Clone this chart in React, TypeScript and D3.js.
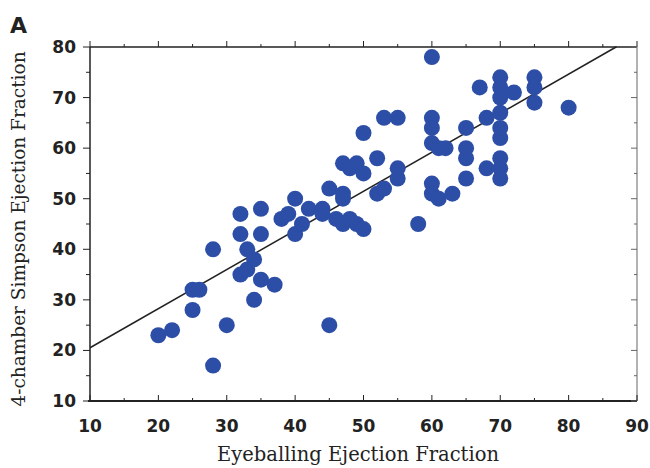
import React from "react";
import * as d3 from "d3";

// eyeballing EF (x) vs 4-chamber Simpson EF (y)
const eyeball = [
  20, 22, 25, 25, 26, 28, 28, 30, 34, 32, 33, 34, 33, 32, 35, 32, 35, 35, 37,
  40, 38, 40, 39, 42, 44, 45, 45, 47, 47, 46, 47, 49, 50, 48, 47, 48, 49, 50,
  52, 50, 53, 55, 52, 53, 55, 55, 58, 60, 60, 60, 60, 61, 62, 60, 60, 61, 63,
  65, 65, 65, 65, 67, 68, 68, 70, 70, 70, 70, 70, 70, 70, 70, 70, 72, 75, 75,
  75, 80, 41, 44,
];
const simpson = [
  23, 24, 28, 32, 32, 40, 17, 25, 30, 35, 36, 38, 40, 43, 43, 47, 48, 34, 33,
  50, 46, 43, 47, 48, 48, 25, 52, 51, 50, 46, 45, 45, 44, 46, 57, 56, 57, 55,
  58, 63, 66, 66, 51, 52, 54, 56, 45, 78, 66, 64, 61, 60, 60, 53, 51, 50, 51,
  54, 58, 60, 64, 72, 66, 56, 54, 56, 58, 62, 64, 67, 70, 72, 74, 71, 69, 72,
  74, 68, 45, 47,
];
const xTicks = [10, 20, 30, 40, 50, 60, 70, 80, 90];
const yTicks = [10, 20, 30, 40, 50, 60, 70, 80];
// regression line endpoints (x values)
const fitX = [10, 87];
const fitSlope = 0.773;
const fitIntercept = 12.8;

export default function App() {
  const x = d3.scaleLinear().domain([10, 90]).range([90, 637]);
  const y = d3.scaleLinear().domain([10, 80]).range([401, 47]);
  const minorX = d3.range(10, 91, 5);
  const minorY = d3.range(10, 81, 5);
  const line = d3
    .line<number>()
    .x((d) => x(d))
    .y((d) => y(fitSlope * d + fitIntercept));

  return (
    <svg
      width={650}
      height={468}
      style={{ position: "absolute", left: 0, top: 0, background: "#fff" }}
    >
      <text x={10} y={33} fontFamily="DejaVu Sans" fontWeight="bold" fontSize={22} fill="#222">
        A
      </text>

      {/* frame */}
      <line x1={90} x2={637} y1={47} y2={47} stroke="#222" strokeWidth={1.5} />
      <line x1={637} x2={637} y1={47} y2={401} stroke="#999" strokeWidth={1.5} />
      <line x1={90} x2={90} y1={47} y2={401} stroke="#222" strokeWidth={1.5} />
      <line x1={88} x2={637} y1={401} y2={401} stroke="#222" strokeWidth={2} />

      {minorX.map((t) => (
        <g key={"mx" + t}>
          <line x1={x(t)} x2={x(t)} y1={401} y2={t % 10 === 0 ? 395 : 398} stroke="#222" />
          <line x1={x(t)} x2={x(t)} y1={47} y2={t % 10 === 0 ? 41 : 44} stroke="#222" />
        </g>
      ))}
      {minorY.map((t) => (
        <g key={"my" + t}>
          <line x1={90} x2={t % 10 === 0 ? 83 : 86} y1={y(t)} y2={y(t)} stroke="#222" />
          <line x1={637} x2={t % 10 === 0 ? 631 : 634} y1={y(t)} y2={y(t)} stroke="#666" />
        </g>
      ))}

      {xTicks.map((t) => (
        <text
          key={"xl" + t}
          x={x(t)}
          y={432}
          textAnchor="middle"
          fontFamily="DejaVu Sans"
          fontWeight="bold"
          fontSize={17}
          fill="#222"
        >
          {t}
        </text>
      ))}
      {yTicks.map((t) => (
        <text
          key={"yl" + t}
          x={76}
          y={y(t) + 6}
          textAnchor="end"
          fontFamily="DejaVu Sans"
          fontWeight="bold"
          fontSize={17}
          fill="#222"
        >
          {t}
        </text>
      ))}

      <text
        x={358}
        y={461}
        textAnchor="middle"
        fontFamily="DejaVu Serif"
        fontSize={19.5}
        fill="#222"
      >
        Eyeballing Ejection Fraction
      </text>
      <text
        transform="translate(25,229) rotate(-90)"
        textAnchor="middle"
        fontFamily="DejaVu Serif"
        fontSize={18.5}
        fill="#222"
      >
        4-chamber Simpson Ejection Fraction
      </text>

      <path d={line(fitX) || ""} fill="none" stroke="#222" strokeWidth={1.5} />

      {eyeball.map((e, i) => (
        <circle key={i} cx={x(e)} cy={y(simpson[i])} r={8} fill="#2c4ea6" />
      ))}
    </svg>
  );
}
